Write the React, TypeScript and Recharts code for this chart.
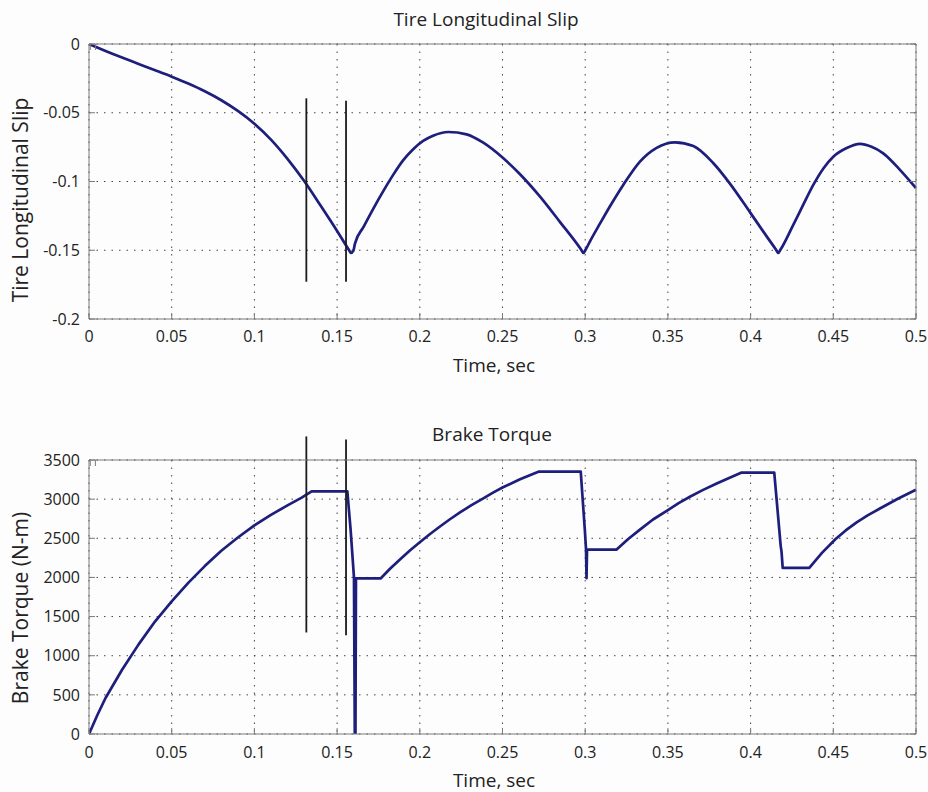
import { CartesianGrid, Label, Line, LineChart, ReferenceLine, XAxis, YAxis } from "recharts"

const FONT = "'Open Sans', sans-serif"
const LINE_COLOR = "#1e1e7c"
const BOX_COLOR = "#7a7a7a"
const GRID_COLOR = "#444444"
const CURSOR_COLOR = "#1a1a1a"

// shared time axis
const timeTicks = [0, 0.05, 0.1, 0.15, 0.2, 0.25, 0.3, 0.35, 0.4, 0.45, 0.5]

// top plot: tire longitudinal slip
const slipTicks = [-0.2, -0.15, -0.1, -0.05, 0]
const slipTime = [
  0, 0.005, 0.01, 0.02, 0.03, 0.04, 0.05, 0.06, 0.07, 0.08,
  0.09, 0.1, 0.11, 0.12, 0.13, 0.14, 0.15, 0.157, 0.1584, 0.1598,
  0.1608, 0.166, 0.172, 0.178, 0.184, 0.19, 0.196, 0.202, 0.208, 0.2172,
  0.2283, 0.2384, 0.25, 0.2606, 0.2727, 0.2848, 0.2975, 0.2989, 0.3003, 0.3029,
  0.309, 0.315, 0.323, 0.3331, 0.3432, 0.3543, 0.3654, 0.3775, 0.3875, 0.4,
  0.4097, 0.4153, 0.4167, 0.4181, 0.4258, 0.432, 0.4379, 0.444, 0.45, 0.4581,
  0.4661, 0.4731, 0.4802, 0.4903, 0.5,
]
const slipValue = [
  0, -0.0026, -0.0051, -0.0099, -0.0145, -0.0191, -0.0238, -0.0288, -0.0344, -0.0409,
  -0.0487, -0.058, -0.0695, -0.0835, -0.0995, -0.1175, -0.136, -0.1495, -0.152, -0.1505,
  -0.1452, -0.133, -0.1195, -0.1068, -0.095, -0.0845, -0.0765, -0.0705, -0.0667, -0.064,
  -0.0657, -0.0718, -0.0826, -0.0947, -0.111, -0.1295, -0.1495, -0.152, -0.1495, -0.1435,
  -0.1305, -0.118, -0.1025, -0.0855, -0.0755, -0.0715, -0.0742, -0.0867, -0.1015, -0.123,
  -0.1399, -0.1495, -0.152, -0.1495, -0.1315, -0.1165, -0.1025, -0.0905, -0.082, -0.0757,
  -0.0727, -0.0748, -0.0795, -0.0915, -0.1048,
]

// bottom plot: brake torque
const torqueTicks = [0, 500, 1000, 1500, 2000, 2500, 3000, 3500]
const torqueTime = [
  0, 0.005, 0.01, 0.02, 0.03, 0.04, 0.05, 0.06, 0.07, 0.08,
  0.09, 0.1, 0.11, 0.12, 0.1286, 0.1346, 0.1562, 0.1582, 0.1602, 0.1607,
  0.1611, 0.1614, 0.1763, 0.182, 0.188, 0.194, 0.2, 0.206, 0.2122, 0.218,
  0.2243, 0.231, 0.2384, 0.244, 0.25, 0.2606, 0.2717, 0.2973, 0.2998, 0.3005,
  0.3008, 0.3011, 0.319, 0.326, 0.3331, 0.341, 0.35, 0.3565, 0.3633, 0.371,
  0.3795, 0.387, 0.3946, 0.4143, 0.4182, 0.4187, 0.4194, 0.4355, 0.443, 0.4514,
  0.4575, 0.4641, 0.471, 0.4782, 0.489, 0.5,
]
const torqueValue = [
  0, 240, 460, 820, 1145, 1440, 1695, 1930, 2145, 2340,
  2510, 2665, 2800, 2920, 3020, 3100, 3100, 2600, 2000, 0,
  0, 1987, 1987, 2110, 2230, 2345, 2450, 2552, 2650, 2740,
  2830, 2920, 3010, 3080, 3148, 3254, 3351, 3351, 2600, 2356,
  1990, 2356, 2356, 2490, 2610, 2740, 2860, 2950, 3030, 3115,
  3200, 3270, 3340, 3340, 2400, 2330, 2123, 2123, 2310, 2490,
  2600, 2703, 2795, 2880, 3005, 3121,
]

// the two black cursor lines drawn over both plots
const cursorTime = [0.1314, 0.1554]
const cursorSlipTop = [-0.0395, -0.0412]
const cursorSlipBottom = [-0.1729, -0.1729]
const cursorTorqueTop = [3801, 3763]
const cursorTorqueBottom = [1297, 1263]

const slipData = slipTime.map((t, i) => ({ t, slip: slipValue[i] }))
const torqueData = torqueTime.map((t, i) => ({ t, torque: torqueValue[i] }))

const tickStyle = { fontFamily: FONT, fontSize: 16, fill: "#222" }
const blank = () => ""

const textLabel = (value: string, x: number, y: number, size: number, rotate = false) => () => (
  <text
    x={x}
    y={y}
    textAnchor="middle"
    fontFamily={FONT}
    fontSize={size}
    fill="#222"
    transform={rotate ? `rotate(-90 ${x} ${y})` : undefined}
  >
    {value}
  </text>
)

function SlipChart() {
  return (
    <LineChart width={928} height={400} data={slipData} margin={{ top: 0, right: 0, bottom: 0, left: 0 }}>
      <CartesianGrid stroke={GRID_COLOR} strokeDasharray="1.5 6" />
      <XAxis
        dataKey="t"
        type="number"
        domain={[0, 0.5]}
        ticks={timeTicks}
        allowDataOverflow
        height={81}
        stroke={BOX_COLOR}
        tickSize={-6}
        tickMargin={18}
        tick={tickStyle}
      >
        <Label content={textLabel("Time, sec", 494, 372, 19)} />
      </XAxis>
      <XAxis
        xAxisId="top"
        orientation="top"
        type="number"
        domain={[0, 0.5]}
        ticks={timeTicks}
        allowDataOverflow
        height={44}
        stroke={BOX_COLOR}
        tickSize={-6}
        tickFormatter={blank}
      >
        <Label content={textLabel("Tire Longitudinal Slip", 486, 26, 19)} />
      </XAxis>
      <YAxis
        type="number"
        domain={[-0.2, 0]}
        ticks={slipTicks}
        allowDataOverflow
        width={89}
        stroke={BOX_COLOR}
        tickSize={-6}
        tickMargin={15}
        tick={tickStyle}
      >
        <Label content={textLabel("Tire Longitudinal Slip", 28, 200, 21, true)} />
      </YAxis>
      <YAxis
        yAxisId="right"
        orientation="right"
        type="number"
        domain={[-0.2, 0]}
        ticks={slipTicks}
        allowDataOverflow
        width={12}
        stroke={BOX_COLOR}
        tickSize={-6}
        tickFormatter={blank}
      />
      <Line
        dataKey="slip"
        type="monotone"
        stroke={LINE_COLOR}
        strokeWidth={2.7}
        dot={false}
        isAnimationActive={false}
      />
      {cursorTime.map((t, i) => (
        <ReferenceLine
          key={i}
          segment={[
            { x: t, y: cursorSlipTop[i] },
            { x: t, y: cursorSlipBottom[i] },
          ]}
          stroke={CURSOR_COLOR}
          strokeWidth={1.8}
          ifOverflow="visible"
        />
      ))}
    </LineChart>
  )
}

function TorqueChart() {
  return (
    <LineChart width={928} height={392} data={torqueData} margin={{ top: 0, right: 0, bottom: 0, left: 0 }}>
      <CartesianGrid stroke={GRID_COLOR} strokeDasharray="1.5 6" />
      <XAxis
        dataKey="t"
        type="number"
        domain={[0, 0.5]}
        ticks={timeTicks}
        allowDataOverflow
        height={58}
        stroke={BOX_COLOR}
        tickSize={-6}
        tickMargin={19}
        tick={tickStyle}
      >
        <Label content={textLabel("Time, sec", 494, 387, 19)} />
      </XAxis>
      <XAxis
        xAxisId="top"
        orientation="top"
        type="number"
        domain={[0, 0.5]}
        ticks={timeTicks}
        allowDataOverflow
        height={60}
        stroke={BOX_COLOR}
        tickSize={-6}
        tickFormatter={blank}
      >
        <Label content={textLabel("Brake Torque", 492, 41, 19)} />
      </XAxis>
      <YAxis
        type="number"
        domain={[0, 3500]}
        ticks={torqueTicks}
        allowDataOverflow
        width={89}
        stroke={BOX_COLOR}
        tickSize={-6}
        tickMargin={15}
        tick={tickStyle}
      >
        <Label content={textLabel("Brake Torque (N-m)", 28, 208, 21, true)} />
      </YAxis>
      <YAxis
        yAxisId="right"
        orientation="right"
        type="number"
        domain={[0, 3500]}
        ticks={torqueTicks}
        allowDataOverflow
        width={12}
        stroke={BOX_COLOR}
        tickSize={-6}
        tickFormatter={blank}
      />
      <Line
        dataKey="torque"
        type="linear"
        stroke={LINE_COLOR}
        strokeWidth={2.7}
        strokeLinejoin="round"
        dot={false}
        isAnimationActive={false}
      />
      {cursorTime.map((t, i) => (
        <ReferenceLine
          key={i}
          segment={[
            { x: t, y: cursorTorqueTop[i] },
            { x: t, y: cursorTorqueBottom[i] },
          ]}
          stroke={CURSOR_COLOR}
          strokeWidth={1.8}
          ifOverflow="visible"
        />
      ))}
    </LineChart>
  )
}

export default function App() {
  return (
    <div style={{ position: "absolute", left: 0, top: 0, width: 928, height: 792, background: "#fdfdfd" }}>
      <div style={{ position: "absolute", left: 0, top: 0 }}>
        <SlipChart />
      </div>
      <div style={{ position: "absolute", left: 0, top: 400 }}>
        <TorqueChart />
      </div>
    </div>
  )
}
